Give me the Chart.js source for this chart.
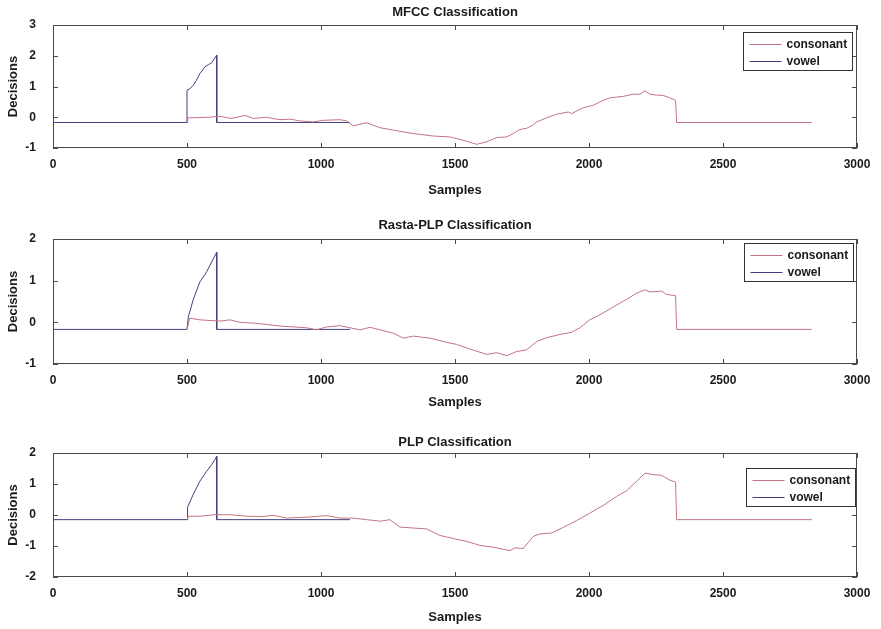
<!DOCTYPE html>
<html>
<head>
<meta charset="utf-8">
<script src="https://cdn.jsdelivr.net/npm/chart.js@4.4.1/dist/chart.umd.min.js"></script>
<style>
  body { margin: 0; background: #fff; }
  .panel { position: absolute; left: 0; width: 881px; }
  canvas { display: block; }
</style>
</head>
<body>
<div class="panel" style="top:0px"><canvas id="mfccChart" width="881" height="214"></canvas></div>
<div class="panel" style="top:214px"><canvas id="rastaChart" width="881" height="214"></canvas></div>
<div class="panel" style="top:428px"><canvas id="plpChart" width="881" height="201"></canvas></div>
<script>
// series labels
const seriesNames = ['consonant', 'vowel'];
const xTicks = [0, 500, 1000, 1500, 2000, 2500, 3000];

// MFCC panel, [sample, decision]
const mfccConsonant = [[500,-0.17],[503,-0.02],[540,-0.01],[580,0.0],[623,0.03],[665,-0.04],[716,0.06],[748,-0.04],[797,0.0],[847,-0.08],[884,-0.06],[922,-0.12],[971,-0.15],[1008,-0.1],[1071,-0.08],[1096,-0.12],[1120,-0.28],[1170,-0.18],[1220,-0.34],[1270,-0.42],[1344,-0.53],[1419,-0.61],[1481,-0.64],[1531,-0.75],[1581,-0.88],[1618,-0.80],[1656,-0.66],[1693,-0.64],[1717,-0.53],[1742,-0.40],[1767,-0.36],[1792,-0.25],[1805,-0.15],[1842,-0.02],[1879,0.10],[1923,0.17],[1935,0.12],[1979,0.31],[2016,0.39],[2053,0.55],[2078,0.63],[2128,0.68],[2165,0.75],[2190,0.75],[2209,0.86],[2227,0.75],[2252,0.72],[2277,0.71],[2302,0.63],[2323,0.55],[2327,-0.17],[2831,-0.17]];
const mfccVowel = [[0,-0.17],[500,-0.17],[500,0.88],[510,0.92],[523,1.04],[535,1.2],[548,1.42],[567,1.64],[580,1.71],[592,1.77],[611,2.02],[611,-0.17],[1108,-0.17]];

// Rasta-PLP panel
const rastaConsonant = [[500,-0.17],[510,0.10],[548,0.06],[623,0.03],[660,0.06],[698,0.0],[748,-0.02],[797,-0.05],[847,-0.09],[897,-0.11],[946,-0.13],[984,-0.18],[1021,-0.11],[1071,-0.08],[1108,-0.13],[1145,-0.18],[1183,-0.12],[1220,-0.18],[1270,-0.26],[1307,-0.38],[1344,-0.33],[1407,-0.38],[1469,-0.48],[1506,-0.53],[1556,-0.64],[1618,-0.77],[1656,-0.73],[1693,-0.80],[1730,-0.70],[1767,-0.66],[1805,-0.46],[1842,-0.37],[1892,-0.29],[1935,-0.24],[1966,-0.13],[2003,0.06],[2041,0.18],[2078,0.32],[2115,0.46],[2140,0.55],[2178,0.70],[2209,0.78],[2227,0.73],[2271,0.75],[2289,0.67],[2323,0.64],[2327,-0.17],[2831,-0.17]];
const rastaVowel = [[0,-0.17],[500,-0.17],[505,0.13],[523,0.54],[548,0.97],[573,1.21],[592,1.45],[611,1.68],[611,-0.17],[1108,-0.17]];

// PLP panel
const plpConsonant = [[500,-0.15],[503,-0.04],[548,-0.04],[604,0.01],[660,0.01],[723,-0.04],[785,-0.05],[822,-0.01],[872,-0.10],[946,-0.07],[1021,-0.02],[1071,-0.10],[1120,-0.10],[1170,-0.15],[1220,-0.20],[1257,-0.15],[1294,-0.39],[1344,-0.42],[1394,-0.45],[1444,-0.66],[1494,-0.76],[1543,-0.85],[1593,-0.98],[1643,-1.04],[1705,-1.15],[1724,-1.06],[1755,-1.08],[1792,-0.69],[1817,-0.61],[1861,-0.58],[1904,-0.40],[1954,-0.18],[2003,0.06],[2053,0.31],[2103,0.60],[2140,0.78],[2178,1.09],[2209,1.35],[2240,1.30],[2271,1.28],[2302,1.12],[2323,1.06],[2327,-0.15],[2831,-0.15]];
const plpVowel = [[0,-0.15],[500,-0.15],[502,0.25],[523,0.66],[548,1.09],[573,1.41],[592,1.62],[611,1.89],[611,-0.15],[1108,-0.15]];

const fontFamily = '"Liberation Sans", Arial, sans-serif';
const textColor = '#1a1a1a';
const axisColor = '#4a4a4a';
const consonantColor = 'rgb(196, 116, 128)';
const vowelColor = 'rgb(64, 64, 128)';

Chart.defaults.font.family = fontFamily;
Chart.defaults.color = textColor;

// MATLAB style box, inside ticks and legend inside the axes
const matlabAxes = {
    id: 'matlabAxes',
    afterDatasetsDraw(chart, args, opts) {
        const ctx = chart.ctx;
        const a = chart.chartArea;
        const xs = chart.scales.x, ys = chart.scales.y;
        ctx.save();
        ctx.strokeStyle = axisColor;
        ctx.lineWidth = 1;
        ctx.strokeRect(Math.round(a.left) + 0.5, Math.round(a.top) + 0.5, Math.round(a.width) - 1, Math.round(a.height) - 1);
        ctx.beginPath();
        xs.ticks.forEach(t => {
            const px = Math.round(xs.getPixelForValue(t.value)) + 0.5;
            ctx.moveTo(px, a.bottom); ctx.lineTo(px, a.bottom - 5);
            ctx.moveTo(px, a.top); ctx.lineTo(px, a.top + 5);
        });
        ys.ticks.forEach(t => {
            const py = Math.round(ys.getPixelForValue(t.value)) + 0.5;
            ctx.moveTo(a.left, py); ctx.lineTo(a.left + 5, py);
            ctx.moveTo(a.right, py); ctx.lineTo(a.right - 5, py);
        });
        ctx.stroke();

        // legend
        ctx.font = 'bold 12px ' + fontFamily;
        const datasets = chart.data.datasets;
        let tw = 0;
        datasets.forEach(d => { tw = Math.max(tw, ctx.measureText(d.label).width); });
        const w = Math.round(6 + 32 + 5 + tw + 5);
        const h = 38;
        const x0 = Math.round(a.right - opts.right - w) + 0.5;
        const y0 = Math.round(a.top + opts.top) + 0.5;
        ctx.fillStyle = '#fff';
        ctx.fillRect(x0, y0, w, h);
        ctx.strokeStyle = '#333';
        ctx.strokeRect(x0, y0, w, h);
        datasets.forEach((d, i) => {
            const ly = Math.round(y0 + 11 + i * 17) + 0.5;
            ctx.strokeStyle = d.borderColor;
            ctx.beginPath();
            ctx.moveTo(x0 + 6, ly); ctx.lineTo(x0 + 38, ly);
            ctx.stroke();
            ctx.fillStyle = textColor;
            ctx.textBaseline = 'middle';
            ctx.textAlign = 'left';
            ctx.fillText(d.label, x0 + 43, ly);
        });
        ctx.restore();
    }
};

function toPoints(list) {
    return list.map(p => ({ x: p[0], y: p[1] }));
}

function renderClassificationChart(id, title, consonant, vowel, yMin, yMax, box) {
    var ctx = document.getElementById(id).getContext('2d');
    var chart = new Chart(ctx, {
        type: 'line',
        data: {
            datasets: [{
                label: seriesNames[0],
                data: toPoints(consonant),
                borderColor: consonantColor,
                borderWidth: 1,
                pointRadius: 0,
                tension: 0
            }, {
                label: seriesNames[1],
                data: toPoints(vowel),
                borderColor: vowelColor,
                borderWidth: 1,
                pointRadius: 0,
                tension: 0
            }]
        },
        plugins: [matlabAxes],
        options: {
            responsive: false,
            animation: false,
            events: [],
            layout: { padding: { left: 0, right: 24, top: 0, bottom: 0 } },
            plugins: {
                legend: { display: false },
                tooltip: { enabled: false },
                title: {
                    display: true,
                    text: title,
                    fullSize: false,
                    color: textColor,
                    font: { size: 13, weight: 'bold' },
                    padding: { top: box.titleTop, bottom: 25 - 15.6 - box.titleTop }
                },
                matlabAxes: { top: box.legendTop, right: box.legendRight }
            },
            scales: {
                x: {
                    type: 'linear',
                    min: 0,
                    max: 3000,
                    afterBuildTicks: function(scale) {
                        scale.ticks = xTicks.map(v => ({ value: v }));
                    },
                    afterFit: function(scale) { scale.height = box.xHeight; },
                    grid: { display: false },
                    border: { display: false },
                    ticks: {
                        padding: 1,
                        color: textColor,
                        font: { size: 12, weight: 'bold' },
                        maxRotation: 0,
                        callback: function(value) { return String(value); }
                    },
                    title: {
                        display: true,
                        text: 'Samples',
                        color: textColor,
                        font: { size: 13, weight: 'bold' },
                        padding: { top: 0, bottom: box.samplesPad }
                    }
                },
                y: {
                    min: yMin,
                    max: yMax,
                    afterFit: function(scale) { scale.width = 53; },
                    grid: { display: false },
                    border: { display: false },
                    ticks: { stepSize: 1, padding: 9, color: textColor, font: { size: 12, weight: 'bold' } },
                    title: {
                        display: true,
                        text: 'Decisions',
                        color: textColor,
                        font: { size: 13, weight: 'bold' },
                        padding: { top: 6, bottom: 0 }
                    }
                }
            }
        }
    });
    return chart;
}

renderClassificationChart('mfccChart', 'MFCC Classification', mfccConsonant, mfccVowel, -1, 3,
    { titleTop: 5, xHeight: 66, samplesPad: 16, legendTop: 7, legendRight: 5 });
renderClassificationChart('rastaChart', 'Rasta-PLP Classification', rastaConsonant, rastaVowel, -1, 2,
    { titleTop: 4, xHeight: 64, samplesPad: 18, legendTop: 4, legendRight: 4 });
renderClassificationChart('plpChart', 'PLP Classification', plpConsonant, plpVowel, -2, 2,
    { titleTop: 7, xHeight: 52, samplesPad: 4, legendTop: 15, legendRight: 2 });
</script>
</body>
</html>
